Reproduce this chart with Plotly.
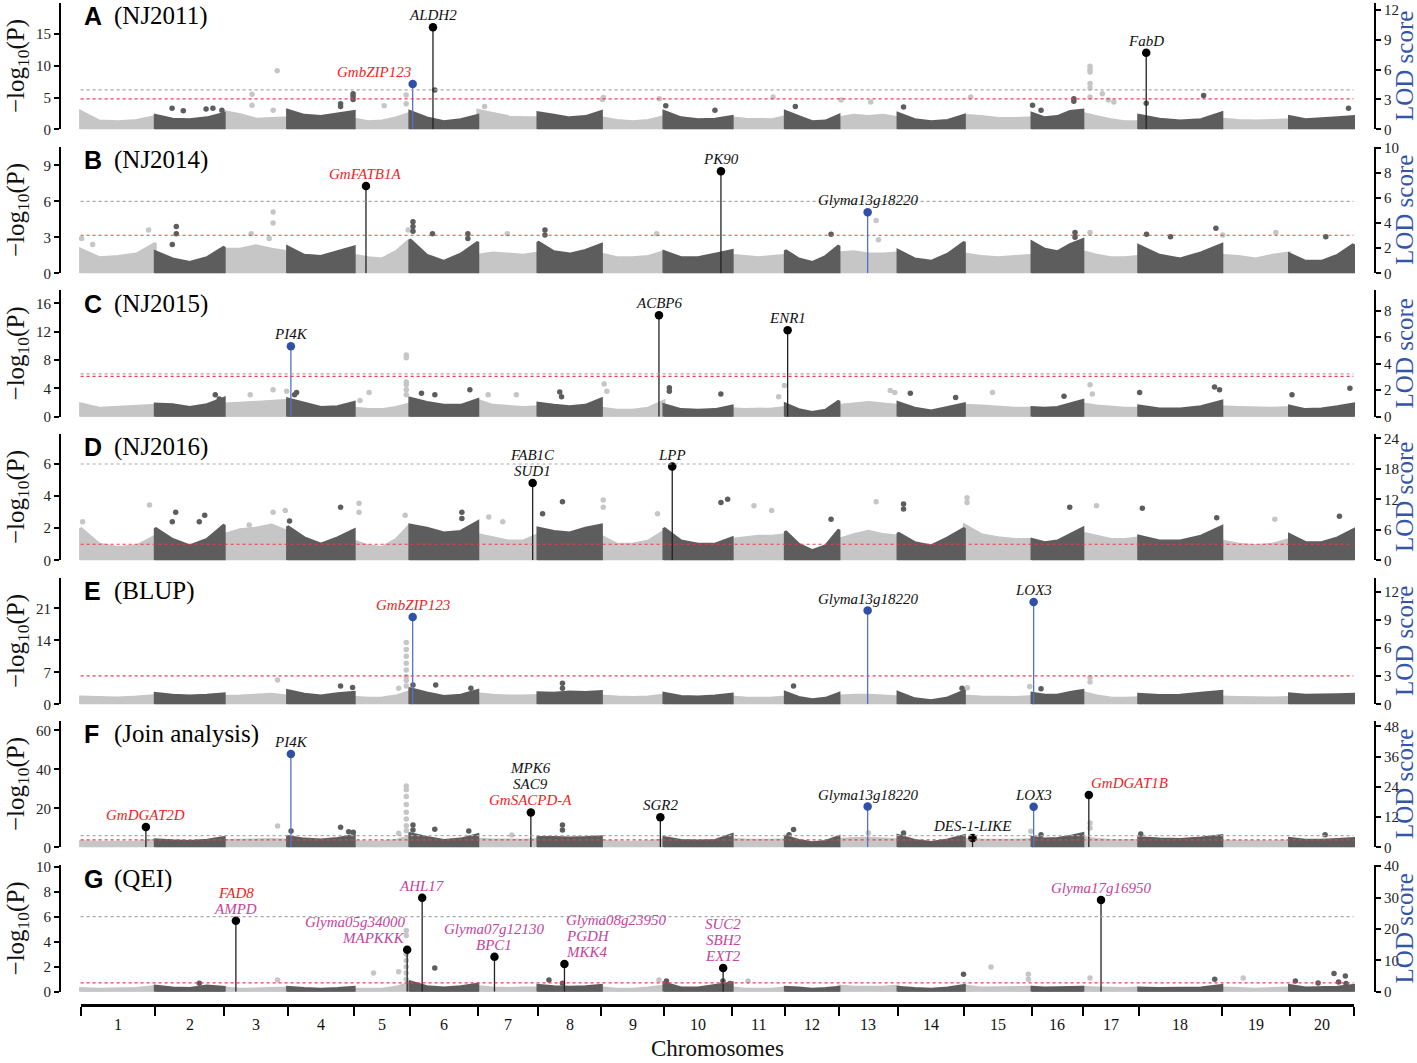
import plotly.graph_objects as go

# ---------------- data ----------------
chrom_names = [str(i) for i in range(1, 21)]
# relative chromosome lengths as drawn on the x axis (marker-index units)
chrom_len = [74.7, 68.9, 63.4, 66.6, 55.7, 67.9, 60.2, 63.4, 62.6, 68.2,
             53.2, 53.6, 59.1, 66.3, 67.7, 50.8, 55.9, 83.1, 67.7, 64.0]

panel_tags = ["A", "B", "C", "D", "E", "F", "G"]
panel_names = ["(NJ2011)", "(NJ2014)", "(NJ2015)", "(NJ2016)", "(BLUP)",
               "(Join analysis)", "(QEI)"]

left_dtick = [5, 3, 4, 2, 7, 20, 2]
right_dtick = [3, 2, 2, 6, 3, 12, 10]

# significance thresholds, -log10(P)
gray_line = [6.2, 6.0, 6.05, 6.0, None, 6.0, 6.0]
red_line = [4.8, 3.17, 5.7, 1.0, 6.2, 3.8, 0.7]

# top of the dense SNP cloud per chromosome (start, 1/4, 1/2, 3/4, end)
band_A = [[2.8, 1.3, 1.2, 1.4, 2.0], [2.2, 1.6, 1.5, 1.8, 2.5], [2.8, 2.3, 1.6, 1.7, 1.8],
          [3.0, 2.2, 2.0, 2.4, 2.8], [1.6, 1.2, 1.3, 1.8, 2.5], [2.8, 1.8, 1.2, 1.5, 2.2],
          [3.0, 2.5, 2.0, 1.8, 1.8], [2.6, 2.2, 1.8, 2.0, 2.8], [1.8, 1.4, 1.2, 1.4, 2.0],
          [2.8, 1.8, 1.5, 1.6, 2.0], [1.8, 1.6, 1.5, 1.5, 2.0], [2.8, 2.0, 1.2, 1.3, 2.2],
          [1.8, 2.2, 2.0, 2.2, 1.8], [2.5, 1.5, 1.2, 1.4, 2.2], [2.2, 2.0, 1.7, 1.7, 1.8],
          [2.5, 1.8, 2.0, 2.8, 3.0], [2.5, 2.0, 1.5, 1.2, 1.2], [2.2, 1.6, 1.3, 1.5, 2.6],
          [1.6, 1.4, 1.3, 1.4, 1.5], [2.0, 1.5, 1.6, 1.8, 2.0]]
band_B = [[2.0, 1.3, 1.4, 1.6, 2.5], [1.8, 1.2, 0.9, 1.3, 2.2], [2.0, 2.0, 2.3, 2.0, 1.8],
          [2.2, 1.5, 1.4, 1.8, 2.2], [1.5, 1.3, 1.2, 1.8, 2.8], [2.8, 1.5, 1.0, 1.6, 2.6],
          [1.5, 1.7, 1.6, 1.5, 1.7], [2.6, 1.8, 1.6, 1.9, 2.4], [1.6, 1.3, 1.3, 1.4, 1.8],
          [1.8, 1.3, 1.3, 1.6, 1.9], [1.5, 1.4, 1.3, 1.4, 1.5], [1.9, 1.2, 0.9, 1.4, 2.3],
          [1.7, 1.8, 1.6, 1.6, 1.7], [1.9, 1.2, 1.0, 1.6, 2.6], [1.6, 1.4, 1.3, 1.4, 1.5],
          [2.6, 2.0, 1.8, 2.4, 2.8], [1.8, 1.5, 1.3, 1.3, 1.4], [2.3, 1.5, 1.2, 1.7, 2.4],
          [1.5, 1.4, 1.2, 1.5, 1.7], [1.6, 1.0, 1.0, 1.5, 2.4]]
band_C = [[1.8, 1.2, 1.3, 1.4, 1.6], [1.8, 1.7, 1.3, 1.7, 2.6], [1.8, 1.9, 2.0, 2.1, 2.3],
          [2.5, 1.9, 1.3, 1.4, 2.0], [1.2, 1.0, 1.0, 1.3, 1.8], [2.6, 2.0, 1.6, 1.6, 2.4],
          [2.3, 1.6, 1.4, 1.3, 1.4], [1.9, 1.6, 1.4, 1.6, 2.5], [1.2, 0.9, 0.9, 1.2, 2.2],
          [1.7, 1.0, 0.9, 1.0, 1.5], [1.1, 1.0, 1.0, 1.1, 1.3], [1.8, 1.0, 0.6, 0.9, 2.2],
          [1.6, 1.8, 2.0, 1.8, 1.6], [2.0, 1.2, 0.8, 1.3, 1.8], [1.6, 1.5, 1.3, 1.2, 1.2],
          [1.3, 1.2, 1.3, 1.8, 2.3], [1.8, 1.5, 1.3, 1.2, 1.2], [1.5, 1.1, 1.1, 1.4, 2.2],
          [1.4, 1.3, 1.2, 1.2, 1.3], [1.5, 1.0, 1.1, 1.4, 1.8]]
band_D = [[2.0, 1.0, 0.8, 0.9, 1.5], [2.0, 1.3, 0.9, 1.3, 2.2], [1.6, 1.9, 2.0, 2.2, 1.8],
          [2.1, 1.4, 1.0, 1.4, 1.9], [1.2, 0.9, 0.8, 1.3, 2.2], [2.2, 2.0, 1.7, 1.8, 2.4],
          [1.6, 1.4, 1.2, 1.2, 1.6], [2.0, 1.8, 1.7, 2.0, 2.2], [1.5, 1.0, 1.0, 1.2, 1.8],
          [2.0, 1.2, 1.0, 1.0, 1.4], [1.3, 1.4, 1.5, 1.5, 1.6], [1.8, 1.0, 0.6, 0.9, 1.9],
          [1.3, 1.6, 1.8, 1.6, 1.5], [1.7, 1.1, 0.9, 1.4, 2.0], [2.2, 1.6, 1.4, 1.3, 1.3],
          [1.3, 1.1, 1.2, 1.6, 2.0], [1.7, 1.5, 1.3, 1.3, 1.4], [1.5, 1.2, 1.2, 1.5, 2.1],
          [1.2, 1.0, 0.9, 1.0, 1.3], [1.6, 1.1, 1.1, 1.4, 1.9]]
band_E = [[1.6, 1.5, 1.4, 1.6, 1.9], [2.4, 2.0, 1.8, 2.0, 2.3], [1.7, 1.8, 2.0, 2.2, 1.8],
          [3.0, 2.2, 1.8, 2.3, 2.6], [1.5, 1.3, 1.4, 1.8, 2.8], [3.4, 2.5, 1.7, 2.0, 3.0],
          [2.3, 2.0, 1.8, 1.8, 1.9], [2.5, 2.4, 2.7, 2.6, 2.8], [1.8, 1.6, 1.5, 1.6, 2.0],
          [2.4, 1.7, 1.6, 1.8, 2.2], [1.6, 1.4, 1.3, 1.4, 1.6], [2.6, 1.5, 1.0, 1.3, 2.4],
          [1.8, 2.0, 2.0, 1.8, 1.6], [2.6, 1.2, 0.8, 1.4, 2.9], [1.8, 1.6, 1.5, 1.5, 1.7],
          [2.4, 2.0, 2.0, 2.6, 3.0], [2.6, 1.8, 1.4, 1.3, 1.4], [2.2, 1.9, 2.0, 2.4, 2.8],
          [1.6, 1.5, 1.4, 1.4, 1.5], [2.3, 2.0, 2.0, 2.1, 2.2]]
band_F = [[3.0, 2.6, 2.5, 2.7, 3.5], [3.8, 3.3, 3.0, 3.6, 5.0], [3.5, 3.6, 3.8, 4.0, 3.6],
          [5.5, 4.2, 3.8, 4.5, 6.0], [3.0, 2.7, 2.8, 3.5, 5.5], [7.0, 5.0, 3.5, 4.2, 6.5],
          [4.2, 3.8, 3.6, 3.6, 4.0], [5.0, 5.0, 4.8, 5.0, 5.4], [3.2, 2.8, 2.6, 3.0, 3.8],
          [5.0, 3.5, 3.2, 3.5, 6.5], [4.0, 3.7, 3.5, 3.6, 3.8], [5.5, 3.5, 2.3, 3.0, 5.5],
          [4.0, 4.5, 4.6, 4.2, 3.8], [6.0, 3.5, 2.5, 3.8, 6.0], [4.2, 3.8, 3.6, 3.6, 4.0],
          [5.0, 4.2, 4.5, 5.5, 7.0], [5.0, 4.0, 3.5, 3.4, 3.5], [4.8, 4.2, 4.0, 4.8, 6.0],
          [3.2, 3.0, 2.8, 2.9, 3.2], [4.5, 3.6, 3.6, 4.0, 4.5]]
band_G = [[0.25, 0.2, 0.2, 0.25, 0.4], [0.45, 0.3, 0.25, 0.45, 0.35], [0.3, 0.2, 0.2, 0.25, 0.3],
          [0.35, 0.25, 0.2, 0.25, 0.35], [0.2, 0.2, 0.2, 0.35, 0.7], [0.8, 0.4, 0.3, 0.4, 0.6],
          [0.4, 0.3, 0.25, 0.3, 0.3], [0.5, 0.4, 0.35, 0.4, 0.5], [0.3, 0.2, 0.2, 0.3, 0.45],
          [0.7, 0.3, 0.3, 0.5, 0.7], [0.3, 0.2, 0.2, 0.2, 0.3], [0.35, 0.3, 0.2, 0.25, 0.35],
          [0.45, 0.35, 0.35, 0.35, 0.45], [0.35, 0.25, 0.2, 0.3, 0.5], [0.45, 0.3, 0.3, 0.3, 0.35],
          [0.35, 0.3, 0.3, 0.35, 0.35], [0.35, 0.3, 0.25, 0.25, 0.3], [0.3, 0.25, 0.25, 0.3, 0.5],
          [0.3, 0.25, 0.2, 0.25, 0.3], [0.5, 0.3, 0.3, 0.35, 0.5]]

# isolated SNPs above the cloud: (chromosome, position in chromosome, -log10 P)
pts_A = [(2, 16.8, 3.3), (2, 28, 2.9), (2, 50.8, 3.2), (2, 57.6, 3.3), (2, 66.6, 3.0),
         (3, 27.8, 5.5), (3, 27.8, 3.8), (3, 53, 9.2), (3, 49, 3.0),
         (4, 53, 4.0), (4, 53, 3.6), (4, 65.5, 5.6), (4, 65.5, 5.2), (4, 65.5, 4.7),
         (5, 30, 3.7), (5, 52, 5.4), (5, 52, 4.0), (6, 24.9, 6.2), (7, 6.8, 3.6),
         (9, 1, 4.7), (9, 2, 5.0), (9, 58, 4.8), (10, 1.8, 3.7), (10, 51, 3.0),
         (11, 40.9, 5.1), (12, 10, 3.6), (13, 2.2, 4.6), (13, 31.8, 4.3), (14, 5.5, 3.5),
         (15, 6.4, 5.1), (16, 0.5, 3.8), (16, 9, 3.0), (16, 41.8, 4.8), (16, 41.8, 4.4),
         (17, 7.2, 9.9), (17, 7.2, 9.4), (17, 7.2, 9.0), (17, 7.2, 7.2), (17, 7.2, 6.5),
         (17, 7.2, 5.1), (17, 19.5, 5.6), (17, 25.5, 4.6), (17, 31, 4.3),
         (18, 7.5, 4.1), (18, 64.9, 5.3), (20, 59, 3.3)]
pts_B = [(1, 1, 2.9), (1, 68, 3.6), (1, 12, 2.4), (2, 21, 3.9), (2, 21, 3.3), (2, 17, 2.4),
         (3, 27, 3.3), (3, 48.9, 5.1), (3, 48.9, 4.2), (3, 45, 2.9), (5, 54, 3.6),
         (6, 3.1, 4.3), (6, 3.1, 3.9), (6, 3.1, 3.5), (6, 22.6, 3.3), (6, 58, 3.3), (6, 58, 2.9),
         (7, 29.5, 3.3), (8, 7, 3.6), (8, 7, 3.2), (9, 55.3, 3.3), (12, 45.7, 3.25),
         (13, 37.2, 4.4), (13, 39.5, 2.8), (16, 43, 3.4), (16, 43, 3.0), (17, 7.2, 3.4),
         (18, 7.8, 3.25), (18, 31.8, 3.05), (18, 77.2, 3.75), (19, 0.9, 3.2), (19, 54, 3.4),
         (20, 36.3, 3.05)]
pts_C = [(2, 60, 3.1), (2, 64, 2.5), (3, 26, 3.1), (3, 48.9, 3.8), (3, 62.5, 3.6),
         (4, 9, 3.4), (4, 7, 3.1), (5, 5.8, 2.3), (5, 14.9, 3.4),
         (5, 52.1, 8.7), (5, 52.1, 8.3), (5, 52.1, 4.9), (5, 52.1, 4.5), (5, 52.1, 3.8),
         (5, 52.1, 3.1), (6, 11.6, 3.3), (6, 25, 3.1), (6, 60, 3.8), (7, 10.4, 3.1),
         (7, 38.5, 3.1), (8, 21.8, 3.5), (8, 23.6, 2.8), (9, 2.8, 4.6), (9, 5.5, 3.6),
         (10, 5.4, 4.1), (10, 5.4, 3.6), (10, 56.9, 3.2), (11, 46.5, 2.8), (11, 52.3, 4.4),
         (13, 51.3, 3.7), (13, 55.8, 3.4), (14, 12.3, 3.3), (14, 57.6, 2.7), (15, 28.2, 3.4),
         (16, 32, 2.9), (17, 7.2, 4.5), (17, 9.5, 3.2), (18, 0.9, 3.4), (18, 75.8, 4.2),
         (18, 80.8, 3.8), (20, 2.5, 3.1), (20, 60.4, 4.0)]
pts_D = [(1, 2, 2.4), (1, 68.9, 3.45), (2, 20.4, 3.0), (2, 17, 2.4), (2, 44, 2.4), (2, 49.4, 2.8),
         (3, 25, 2.2), (3, 48.9, 3.0), (3, 61.1, 3.1), (4, 2, 2.45), (4, 53, 3.3),
         (5, 4.9, 3.55), (5, 4.9, 3.0), (5, 51, 2.8), (6, 52, 3.0), (6, 52, 2.6),
         (7, 11, 2.7), (7, 25, 2.4), (8, 4.6, 2.9), (8, 24.5, 3.65), (9, 1.9, 3.75),
         (9, 1.9, 3.3), (9, 56.2, 2.9), (10, 57, 3.6), (10, 63.7, 3.8), (11, 21.8, 3.4),
         (11, 39.5, 3.1), (12, 45.7, 2.55), (13, 37.2, 3.65), (14, 5.5, 3.5), (14, 5.5, 3.2),
         (15, 2.7, 3.9), (15, 2.7, 3.6), (16, 37.7, 3.3), (17, 13.7, 3.4), (18, 3.6, 3.25),
         (18, 78, 2.65), (19, 53, 2.55), (20, 49.9, 2.75)]
pts_E = [(3, 53.4, 5.3), (4, 53, 4.0), (4, 65, 3.7),
         (5, 52.1, 13.5), (5, 52.1, 12.0), (5, 52.1, 10.5), (5, 52.1, 9.0), (5, 52.1, 7.5),
         (5, 52.1, 6.0), (5, 52.1, 5.2), (5, 52.1, 4.0), (5, 44.5, 3.5),
         (6, 3.1, 4.2), (6, 25.8, 4.2), (6, 61, 3.5), (8, 24.5, 4.6), (8, 24.5, 3.5),
         (12, 8.2, 4.0), (14, 64, 3.5), (15, 3, 3.6), (15, 65.4, 3.9), (16, 9, 3.4),
         (17, 7.2, 5.8), (17, 7.2, 4.9)]
pts_F = [(3, 53.4, 10.9), (4, 3.5, 8.4), (4, 53, 10.3), (4, 61.1, 8.0), (4, 65.7, 7.7),
         (5, 52.1, 31.5), (5, 52.1, 29.5), (5, 52.1, 26.0), (5, 52.1, 22.0), (5, 52.1, 18.0),
         (5, 52.1, 14.5), (5, 52.1, 11.0), (5, 52.1, 8.5), (5, 44.5, 7.2),
         (6, 3.1, 11.5), (6, 3.1, 8.9), (6, 24.9, 9.2), (6, 58.9, 8.4), (7, 34, 6.3),
         (8, 24.5, 11.5), (8, 24.5, 8.9), (12, 8.2, 9.1), (12, 3.7, 6.5), (13, 29.5, 7.3),
         (14, 5.5, 7.3), (15, 66.5, 8.2), (16, 9, 6.5), (17, 7.2, 12.5), (17, 7.2, 9.9),
         (18, 2, 6.8), (20, 35.6, 6.5)]
pts_G = [(2, 44, 0.67), (3, 53.4, 0.93), (5, 19.4, 1.5), (5, 44.5, 1.6),
         (5, 52.1, 4.9), (5, 52.1, 4.5), (5, 52.1, 3.0), (5, 52.1, 2.5), (5, 52.1, 2.0),
         (5, 52.1, 1.5), (5, 52.1, 1.0), (6, 24.9, 1.9), (8, 11, 0.93), (8, 24.5, 0.67),
         (9, 57.6, 0.93), (10, 2.5, 0.85), (10, 59, 0.85), (10, 66, 0.65), (11, 15.9, 0.85),
         (14, 65.5, 1.4), (15, 26.7, 1.97), (15, 64, 1.4), (15, 64, 1.0), (17, 7.2, 1.1),
         (18, 76, 1.0), (19, 21.4, 1.1), (20, 5.9, 0.85), (20, 28.6, 0.7), (20, 44.5, 1.45),
         (20, 49, 0.77), (20, 55.8, 1.25), (20, 56.5, 0.65)]

# annotated loci: (chromosome, position, -log10 P, kind, [(gene, category), ...])
# kind "link" = also detected by linkage mapping (blue), "gwas" = GWAS only
peaks_A = [(6, 2.8, 7.13, "link", [("GmbZIP123", "known")]),
           (6, 23.1, 16.04, "gwas", [("ALDH2", "novel")]),
           (18, 7.5, 12.05, "gwas", [("FabD", "novel")])]
peaks_B = [(5, 11.8, 7.28, "gwas", [("GmFATB1A", "known")]),
           (10, 57.0, 8.5, "gwas", [("PK90", "novel")]),
           (13, 28.7, 5.08, "link", [("Glyma13g18220", "novel")])]
peaks_C = [(4, 3.3, 9.92, "link", [("PI4K", "novel")]),
           (9, 57.6, 14.3, "gwas", [("ACBP6", "novel")]),
           (12, 2.3, 12.2, "gwas", [("ENR1", "novel")])]
peaks_D = [(7, 54.9, 4.82, "gwas", [("FAB1C", "novel"), ("SUD1", "novel")]),
           (10, 8.3, 5.84, "gwas", [("LPP", "novel")])]
peaks_E = [(6, 2.8, 19.1, "link", [("GmbZIP123", "known")]),
           (13, 28.7, 20.5, "link", [("Glyma13g18220", "novel")]),
           (16, 1.6, 22.4, "link", [("LOX3", "novel")])]
peaks_F = [(1, 65.3, 10.4, "gwas", [("GmDGAT2D", "known")]),
           (4, 3.3, 47.9, "link", [("PI4K", "novel")]),
           (7, 53.1, 17.9, "gwas", [("MPK6", "novel"), ("SAC9", "novel"), ("GmSACPD-A", "known")]),
           (9, 59.0, 15.4, "gwas", [("SGR2", "novel")]),
           (13, 28.7, 20.9, "link", [("Glyma13g18220", "novel")]),
           (15, 8.2, 4.8, "gwas", [("DES-1-LIKE", "novel")]),
           (16, 1.6, 20.8, "link", [("LOX3", "novel")]),
           (17, 6.0, 26.8, "gwas", [("GmDGAT1B", "known")])]
peaks_G = [(3, 11.7, 5.68, "gwas", [("FAD8", "known"), ("AMPD", "qei")]),
           (5, 53.0, 3.36, "gwas", [("Glyma05g34000", "qei"), ("MAPKKK", "qei")]),
           (6, 12.3, 7.52, "gwas", [("AHL17", "qei")]),
           (7, 16.7, 2.8, "gwas", [("Glyma07g12130", "qei"), ("BPC1", "qei")]),
           (8, 26.5, 2.21, "gwas", [("Glyma08g23950", "qei"), ("PGDH", "qei"), ("MKK4", "qei")]),
           (10, 59.2, 1.9, "gwas", [("SUC2", "qei"), ("SBH2", "qei"), ("EXT2", "qei")]),
           (17, 18.2, 7.33, "gwas", [("Glyma17g16950", "qei")])]

bands = [band_A, band_B, band_C, band_D, band_E, band_F, band_G]
pts = [pts_A, pts_B, pts_C, pts_D, pts_E, pts_F, pts_G]
peaks = [peaks_A, peaks_B, peaks_C, peaks_D, peaks_E, peaks_F, peaks_G]

# ---------------- layout / style ----------------
W, H = 1417, 1063
L_EDGE, R_EDGE = 61, 1374          # axis spines (px)
D0, D1 = 80.6, 1353.5              # first / last SNP (px)
panel_bottom = [129.3, 273.3, 416.7, 560.3, 704.3, 847.3, 991.7]
panel_h = 126.5
left_top = [19.9, 10.54, 17.84, 7.88, 27.67, 64.9, 10.12]
right_top = [12.73, 10.07, 9.55, 24.9, 13.47, 50.2, 40.3]

SERIF = "Liberation Serif"
SANS = "Liberation Sans"
LIGHT, DARK = "#c6c6c6", "#5d5d5d"
BLUE, BLUE_STEM = "#3050a8", "#5274c4"
cat_color = {"known": "#ee2424", "novel": "#111111", "qei": "#c4449c"}
label_anchor = {("A", "GmbZIP123"): "right", ("F", "GmDGAT1B"): "left",
                ("G", "Glyma05g34000"): "right", ("G", "Glyma08g23950"): "left"}


def fx(px):
    return (px - L_EDGE) / (R_EDGE - L_EDGE)


def fy(py):
    return 1 - py / H


starts = []
acc = 0.0
for L in chrom_len:
    starts.append(acc)
    acc += L
total = acc
bounds = starts + [total]
scale = (D1 - D0) / total
x_range = [-(D0 - L_EDGE) / scale, total + (R_EDGE - D1) / scale]

fig = go.Figure()
layout = {}
axis_common = dict(showline=True, linecolor="black", linewidth=2, ticks="outside",
                   ticklen=5, tickwidth=1.5, tickcolor="black",
                   tickfont=dict(family=SERIF, size=15, color="#222"),
                   showgrid=False, zeroline=False, tickmode="linear", tick0=0,
                   fixedrange=True, automargin=False)

for i in range(7):
    ly = "y" if i == 0 else f"y{i + 1}"
    ry = f"y{i + 8}"

    # dense SNP cloud, coloured by chromosome
    for parity, col in ((0, LIGHT), (1, DARK)):
        xs, ys = [], []
        for c in range(parity, 20, 2):
            prof = bands[i][c]
            n = len(prof)
            s, L = starts[c], chrom_len[c]
            xs += [s] + [s + L * j / (n - 1) for j in range(n)] + [s + L, s, None]
            ys += [0] + prof + [0, 0, None]
        fig.add_trace(go.Scatter(x=xs, y=ys, xaxis="x", yaxis=ly, mode="lines",
                                 fill="toself", fillcolor=col,
                                 line=dict(color=col, width=3),
                                 hoverinfo="skip", showlegend=False))

    # isolated SNPs
    for parity, col in ((0, LIGHT), (1, DARK)):
        sel = [p for p in pts[i] if (p[0] - 1) % 2 == parity]
        fig.add_trace(go.Scatter(x=[starts[p[0] - 1] + p[1] for p in sel],
                                 y=[p[2] for p in sel], xaxis="x", yaxis=ly,
                                 mode="markers", marker=dict(color=col, size=5.5),
                                 cliponaxis=False, hoverinfo="skip", showlegend=False))

    # thresholds
    if gray_line[i] is not None:
        fig.add_shape(type="line", xref="x", yref=ly, x0=0, x1=total,
                      y0=gray_line[i], y1=gray_line[i], layer="above",
                      line=dict(color="#a8a8a8", width=1.2, dash="dot"))
    fig.add_shape(type="line", xref="x", yref=ly, x0=0, x1=total,
                  y0=red_line[i], y1=red_line[i], layer="above",
                  line=dict(color="#f03c48", width=1.2, dash="dot"))

    # annotated loci
    for c, pos, val, kind, labels in peaks[i]:
        x = starts[c - 1] + pos
        link = kind == "link"
        fig.add_trace(go.Scatter(x=[x, x], y=[0, val], xaxis="x", yaxis=ly, mode="lines",
                                 line=dict(color=BLUE_STEM if link else "#222", width=1.3),
                                 hoverinfo="skip", showlegend=False))
        fig.add_trace(go.Scatter(x=[x], y=[val], xaxis="x", yaxis=ly, mode="markers",
                                 marker=dict(color=BLUE if link else "black", size=8.5),
                                 cliponaxis=False, hoverinfo="skip", showlegend=False))
        anchor = label_anchor.get((panel_tags[i], labels[0][0]), "center")
        for j, (txt, cat) in enumerate(reversed(labels)):
            fig.add_annotation(x=x, y=val, xref="x", yref=ly, text=f"<i>{txt}</i>",
                               showarrow=False, xanchor=anchor, yanchor="bottom",
                               yshift=2 + 16 * j,
                               font=dict(family=SERIF, size=15, color=cat_color[cat]))

    # right axis carrier
    fig.add_trace(go.Scatter(x=[0], y=[0], xaxis="x", yaxis=ry, mode="markers",
                             marker=dict(opacity=0), hoverinfo="skip", showlegend=False))

    bot = panel_bottom[i]
    top = bot - panel_h
    layout["yaxis" if i == 0 else f"yaxis{i + 1}"] = dict(
        domain=[fy(bot), fy(top)], anchor="x", range=[0, left_top[i]],
        dtick=left_dtick[i], **axis_common)
    layout[f"yaxis{i + 8}"] = dict(
        overlaying=ly, side="right", anchor="x", range=[0, right_top[i]],
        dtick=right_dtick[i], **axis_common)

    # panel titles and axis titles
    fig.add_annotation(x=fx(82), y=fy(top + 13.5), xref="paper", yref="paper",
                       text=f"<b>{panel_tags[i]}</b>", showarrow=False,
                       xanchor="left", yanchor="middle",
                       font=dict(family=SANS, size=25, color="black"))
    fig.add_annotation(x=fx(112), y=fy(top + 13.5), xref="paper", yref="paper",
                       text=panel_names[i], showarrow=False,
                       xanchor="left", yanchor="middle",
                       font=dict(family=SERIF, size=25, color="black"))
    fig.add_annotation(x=fx(17), y=fy(bot - panel_h / 2), xref="paper", yref="paper",
                       text="\u2212log<sub>10</sub>(P)", textangle=-90, showarrow=False,
                       xanchor="center", yanchor="middle",
                       font=dict(family=SERIF, size=25, color="#111"))
    fig.add_annotation(x=fx(1404), y=fy(bot - panel_h / 2), xref="paper", yref="paper",
                       text="LOD score", textangle=-90, showarrow=False,
                       xanchor="center", yanchor="middle",
                       font=dict(family=SERIF, size=25, color="#3355aa"))

# bottom chromosome axis
fig.add_trace(go.Scatter(x=[0], y=[0], xaxis="x2", yaxis="y15", mode="markers",
                         marker=dict(opacity=0), hoverinfo="skip", showlegend=False))
layout["xaxis"] = dict(domain=[0, 1], range=x_range, visible=False, fixedrange=True)
layout["xaxis2"] = dict(domain=[fx(D0), fx(D1)], anchor="y15", range=[0, total],
                        showline=True, linewidth=3, linecolor="black", ticks="outside",
                        ticklen=9, tickwidth=2, tickcolor="black", tickmode="array",
                        tickvals=bounds, showticklabels=False, showgrid=False,
                        zeroline=False, fixedrange=True, automargin=False)
layout["yaxis15"] = dict(domain=[fy(1004), fy(1004) + 0.002], range=[0, 1],
                         visible=False, fixedrange=True)

for c in range(20):
    fig.add_annotation(x=starts[c] + chrom_len[c] / 2, y=fy(1024), xref="x2", yref="paper",
                       text=chrom_names[c], showarrow=False, yanchor="middle",
                       font=dict(family=SERIF, size=16, color="#111"))
fig.add_annotation(x=0.5 * (fx(D0) + fx(D1)), y=fy(1062), xref="paper", yref="paper",
                   text="Chromosomes", showarrow=False, yanchor="bottom", borderpad=0,
                   font=dict(family=SERIF, size=23, color="#111"))

fig.update_layout(width=W, height=H, margin=dict(l=L_EDGE, r=W - R_EDGE, t=0, b=0, pad=0),
                  paper_bgcolor="white", plot_bgcolor="white", showlegend=False,
                  **layout)

# the page body has a default 8px margin; drop it so the figure sits at the window corner
fig.write_html("out.html", config={"displayModeBar": False},
               post_script="document.body.style.margin='0px';")
